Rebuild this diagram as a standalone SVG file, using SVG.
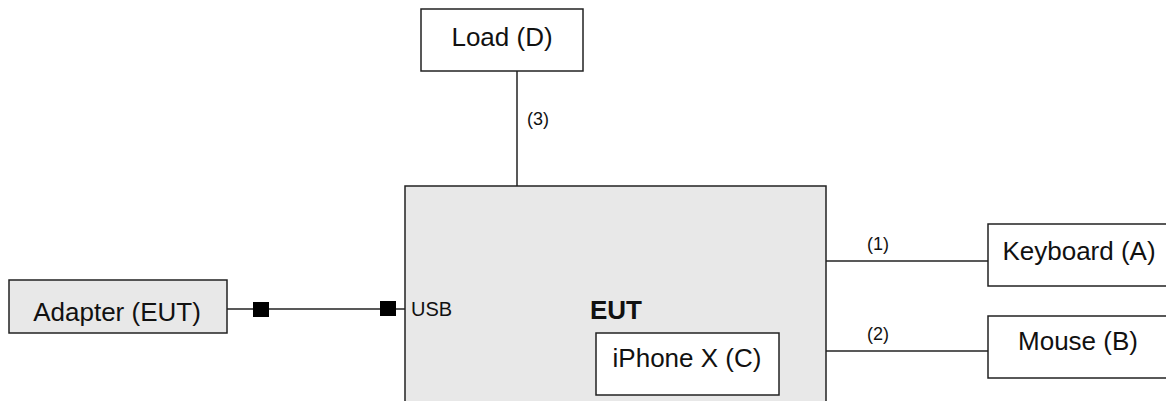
<svg xmlns="http://www.w3.org/2000/svg" width="1166" height="401" viewBox="0 0 1166 401">
<style>
.box{fill:#ffffff;stroke:#222;stroke-width:1.5}
.gbox{fill:#e8e8e8;stroke:#222;stroke-width:1.5}
.t{font-family:"Liberation Sans",Arial,sans-serif;font-size:26px;fill:#111;text-anchor:middle}
.s{font-family:"Liberation Sans",Arial,sans-serif;font-size:18px;fill:#111}
.b{font-family:"Liberation Sans",Arial,sans-serif;font-size:26px;font-weight:bold;fill:#111}
.c{stroke:#222;stroke-width:1.5;fill:none}
</style>
<g id="eut">
<rect class="gbox" x="405" y="186" width="421" height="230" stroke-width="2"/>
<text class="b" x="590" y="319">EUT</text>
<text class="s" x="411" y="316" style="font-size:20px">USB</text>
</g>
<g id="iphone">
<rect class="box" x="596" y="333" width="183" height="62"/>
<text class="t" x="687" y="367">iPhone X (C)</text>
</g>
<g id="load">
<rect class="box" x="421" y="9" width="162" height="62"/>
<text class="t" x="502" y="46">Load (D)</text>
</g>
<g id="adapter">
<rect class="gbox" x="9" y="280" width="218" height="53"/>
<text class="t" x="117" y="321">Adapter (EUT)</text>
</g>
<g id="keyboard">
<rect class="box" x="988" y="224" width="184" height="62"/>
<text class="t" x="1079" y="260">Keyboard (A)</text>
</g>
<g id="mouse">
<rect class="box" x="988" y="316" width="184" height="62"/>
<text class="t" x="1078" y="350">Mouse (B)</text>
</g>
<g id="connectors">
<line class="c" x1="517" y1="71" x2="517" y2="186"/>
<text class="s" x="527" y="125">(3)</text>
<line class="c" x1="227" y1="309" x2="405" y2="309"/>
<rect x="253" y="302" width="16" height="15" fill="#000"/>
<rect x="380" y="301" width="16" height="15" fill="#000"/>
<line class="c" x1="826" y1="261" x2="988" y2="261"/>
<text class="s" x="878" y="250" text-anchor="middle">(1)</text>
<line class="c" x1="826" y1="351" x2="988" y2="351"/>
<text class="s" x="878" y="340" text-anchor="middle">(2)</text>
</g>
</svg>
